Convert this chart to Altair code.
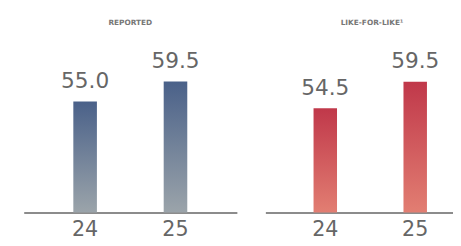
import altair as alt
import pandas as pd

years = ["24", "25"]
reported = [55.0, 59.5]
like_for_like = [54.5, 59.5]

FONT = "DejaVu Sans"


def panel(values, title, top_color, bottom_color, domain, width, align, outer, title_dx):
    df = pd.DataFrame({"year": years, "value": values})
    grad = alt.Gradient(
        gradient="linear",
        stops=[alt.GradientStop(color=top_color, offset=0),
               alt.GradientStop(color=bottom_color, offset=1)],
        x1=0, x2=0, y1=0, y2=1,
    )
    x = alt.X("year:N", sort=years, title=None,
              scale=alt.Scale(paddingInner=0.739, paddingOuter=outer, align=align),
              axis=alt.Axis(labelAngle=0, domain=True, domainColor="#8c8c8c", domainWidth=2,
                            ticks=False, labelFontSize=21, labelColor="#666666",
                            labelFont=FONT, labelPadding=7, grid=False))
    y = alt.Y("value:Q", title=None, axis=None,
              scale=alt.Scale(domain=domain, zero=False, nice=False))
    base = alt.Chart(df)
    bars = base.mark_bar(color=grad).encode(x=x, y=y, y2=alt.datum(domain[0]))
    text = base.mark_text(baseline="alphabetic", dy=-14, fontSize=22, color="#666666",
                          font=FONT).encode(
        x=alt.X("year:N", sort=years), y=y, text=alt.Text("value:Q", format=".1f"))
    return alt.layer(bars, text).properties(
        width=width, height=182,
        title=alt.TitleParams(title, fontSize=7.5, font=FONT, fontWeight="bold",
                              color="#777777", anchor="middle", offset=7, dx=title_dx),
    )


left = panel(reported, "REPORTED", "#4a6189", "#9ba4aa", [30, 70.3], 217, 0.5, 0.549, 0)
right = panel(like_for_like, "LIKE-FOR-LIKE¹", "#c0384a", "#e27e72", [35, 68.5], 191, 0.649, 0.4126, 13)

chart = alt.hconcat(left, right, spacing=29).properties(
    padding={"left": 16, "top": 9, "right": 0, "bottom": 0},
    background="white",
).configure_view(strokeWidth=0, stroke=None)

chart.save("out.html", embed_options={"renderer": "svg", "actions": False})
